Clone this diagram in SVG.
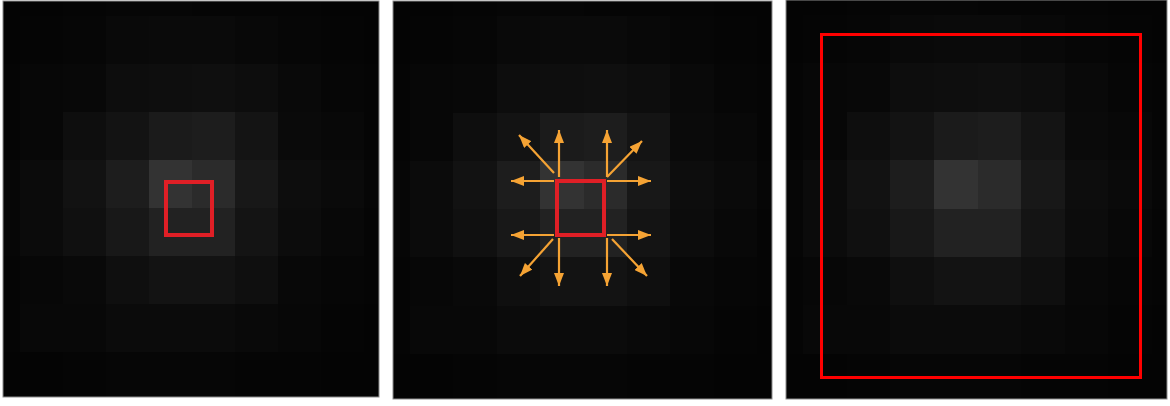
<svg xmlns="http://www.w3.org/2000/svg" xmlns:xlink="http://www.w3.org/1999/xlink" width="1170" height="406" viewBox="0 0 1170 406">
<style>
.arr{stroke:#f5a334;stroke-width:2.2;fill:none;marker-end:url(#ah)}
.frame{fill:none;stroke:#8c8c8c;stroke-width:1}
#img rect{shape-rendering:crispEdges}
</style>
<defs>
<marker id="ah" markerUnits="userSpaceOnUse" markerWidth="13" markerHeight="10" refX="13" refY="5" orient="auto" viewBox="0 0 13 10">
<path d="M0,0 L13,5 L0,10 Z" fill="#f5a334"/>
</marker>
<g id="img">
<rect x="0" y="0" width="376" height="396" fill="#050505"/>
<!-- r0 -->
<g>
<rect x="0" y="0" width="17" height="15" fill="#040404"/>
<rect x="17" y="0" width="43" height="15" fill="#040404"/>
<rect x="103" y="0" width="43" height="15" fill="#060606"/>
<rect x="146" y="0" width="43" height="15" fill="#060606"/>
<rect x="318" y="0" width="58" height="15" fill="#040404"/>
</g>
<!-- r1 -->
<g>
<rect x="0" y="15" width="17" height="48" fill="#040404"/>
<rect x="60" y="15" width="43" height="48" fill="#060606"/>
<rect x="103" y="15" width="43" height="48" fill="#090909"/>
<rect x="146" y="15" width="43" height="48" fill="#0a0a0a"/>
<rect x="189" y="15" width="43" height="48" fill="#0a0a0a"/>
<rect x="232" y="15" width="43" height="48" fill="#080808"/>
<rect x="275" y="15" width="43" height="48" fill="#060606"/>
<rect x="361" y="15" width="15" height="48" fill="#040404"/>
</g>
<!-- r2 -->
<g>
<rect x="17" y="63" width="43" height="48" fill="#070707"/>
<rect x="60" y="63" width="43" height="48" fill="#080808"/>
<rect x="103" y="63" width="43" height="48" fill="#0d0d0d"/>
<rect x="146" y="63" width="43" height="48" fill="#0e0e0e"/>
<rect x="189" y="63" width="43" height="48" fill="#0f0f0f"/>
<rect x="232" y="63" width="43" height="48" fill="#0d0d0d"/>
<rect x="275" y="63" width="43" height="48" fill="#090909"/>
<rect x="318" y="63" width="43" height="48" fill="#060606"/>
</g>
<!-- r3 -->
<g>
<rect x="17" y="111" width="43" height="48" fill="#070707"/>
<rect x="60" y="111" width="43" height="48" fill="#0e0e0e"/>
<rect x="103" y="111" width="43" height="48" fill="#131313"/>
<rect x="146" y="111" width="43" height="48" fill="#1b1b1b"/>
<rect x="189" y="111" width="43" height="48" fill="#1d1d1d"/>
<rect x="232" y="111" width="43" height="48" fill="#141414"/>
<rect x="275" y="111" width="43" height="48" fill="#0a0a0a"/>
<rect x="318" y="111" width="43" height="48" fill="#080808"/>
</g>
<!-- r4 -->
<g>
<rect x="0" y="159" width="17" height="48" fill="#060606"/>
<rect x="17" y="159" width="43" height="48" fill="#0b0b0b"/>
<rect x="60" y="159" width="43" height="48" fill="#121212"/>
<rect x="103" y="159" width="43" height="48" fill="#1d1d1d"/>
<rect x="146" y="159" width="43" height="48" fill="#333333"/>
<rect x="189" y="159" width="43" height="48" fill="#2b2b2b"/>
<rect x="232" y="159" width="43" height="48" fill="#181818"/>
<rect x="275" y="159" width="43" height="48" fill="#0d0d0d"/>
<rect x="318" y="159" width="43" height="48" fill="#0a0a0a"/>
<rect x="361" y="159" width="15" height="48" fill="#060606"/>
</g>
<!-- r5 -->
<g>
<rect x="0" y="207" width="17" height="48" fill="#060606"/>
<rect x="17" y="207" width="43" height="48" fill="#0b0b0b"/>
<rect x="60" y="207" width="43" height="48" fill="#101010"/>
<rect x="103" y="207" width="43" height="48" fill="#181818"/>
<rect x="146" y="207" width="43" height="48" fill="#222222"/>
<rect x="189" y="207" width="43" height="48" fill="#222222"/>
<rect x="232" y="207" width="43" height="48" fill="#141414"/>
<rect x="275" y="207" width="43" height="48" fill="#0c0c0c"/>
<rect x="318" y="207" width="43" height="48" fill="#080808"/>
</g>
<!-- r6 -->
<g>
<rect x="17" y="255" width="43" height="48" fill="#070707"/>
<rect x="60" y="255" width="43" height="48" fill="#090909"/>
<rect x="103" y="255" width="43" height="48" fill="#0f0f0f"/>
<rect x="146" y="255" width="43" height="48" fill="#131313"/>
<rect x="189" y="255" width="43" height="48" fill="#131313"/>
<rect x="232" y="255" width="43" height="48" fill="#0f0f0f"/>
<rect x="275" y="255" width="43" height="48" fill="#080808"/>
<rect x="318" y="255" width="43" height="48" fill="#060606"/>
</g>
<!-- r7 -->
<g>
<rect x="17" y="303" width="43" height="48" fill="#080808"/>
<rect x="60" y="303" width="43" height="48" fill="#080808"/>
<rect x="103" y="303" width="43" height="48" fill="#0b0b0b"/>
<rect x="146" y="303" width="43" height="48" fill="#0b0b0b"/>
<rect x="189" y="303" width="43" height="48" fill="#0b0b0b"/>
<rect x="232" y="303" width="43" height="48" fill="#090909"/>
<rect x="275" y="303" width="43" height="48" fill="#070707"/>
<rect x="361" y="303" width="15" height="48" fill="#040404"/>
</g>
<!-- r8 -->
<g>
<rect x="0" y="351" width="60" height="45" fill="#040404"/>
<rect x="103" y="351" width="129" height="45" fill="#060606"/>
<rect x="318" y="351" width="58" height="45" fill="#040404"/>
</g>
</g>
</defs>
<rect x="0" y="0" width="1170" height="406" fill="#ffffff"/>

<g id="panel1">
<use xlink:href="#img" href="#img" transform="translate(3,1)"/>
<rect class="frame" x="3" y="1" width="376" height="396"/>
<rect id="p1-selection" x="166" y="182" width="46" height="53" fill="none" stroke="#e01f26" stroke-width="4"/>
</g>

<g id="panel2">
<use xlink:href="#img" href="#img" transform="translate(393,1) scale(1.008,1.005)"/>
<rect class="frame" x="393" y="1" width="379" height="398"/>
<rect id="p2-selection" x="557" y="181" width="47" height="54" fill="none" stroke="#e01f26" stroke-width="4"/>
</g>

<g id="panel3">
<use xlink:href="#img" href="#img" transform="translate(786,0) scale(1.0133,1.0076)"/>
<rect class="frame" x="786" y="0" width="381" height="399"/>
<rect id="p3-selection" x="821.5" y="34.5" width="319" height="343" fill="none" stroke="#ff0000" stroke-width="3"/>
</g>

<g id="connectors">
<line class="arr" x1="559" y1="177" x2="559" y2="130"/>
<line class="arr" x1="607" y1="177" x2="607" y2="130"/>
<line class="arr" x1="554" y1="181" x2="511" y2="181"/>
<line class="arr" x1="554" y1="235" x2="511" y2="235"/>
<line class="arr" x1="607" y1="181" x2="651" y2="181"/>
<line class="arr" x1="607" y1="235" x2="651" y2="235"/>
<line class="arr" x1="559" y1="238" x2="559" y2="286"/>
<line class="arr" x1="607" y1="238" x2="607" y2="286"/>
<line class="arr" x1="554" y1="173" x2="519" y2="135"/>
<line class="arr" x1="607" y1="177" x2="642" y2="141"/>
<line class="arr" x1="553" y1="239" x2="520" y2="276"/>
<line class="arr" x1="612" y1="239" x2="647" y2="276"/>
</g>
</svg>
